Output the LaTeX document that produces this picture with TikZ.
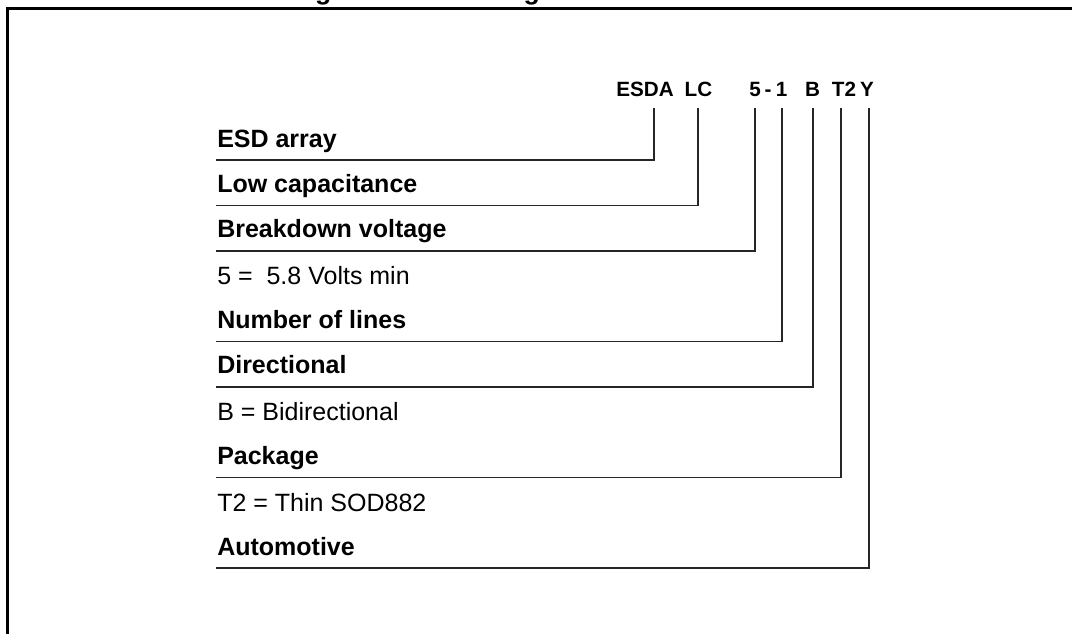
\documentclass[tikz,border=0pt]{standalone}
\usepackage{fontspec}
\setmainfont{Liberation Sans}
\usetikzlibrary{positioning}

\tikzset{
  etiqueta/.style={anchor=base west, inner sep=0pt, font=\fontsize{18.75}{20}\selectfont\bfseries},
  valor/.style={anchor=base west, inner sep=0pt, font=\fontsize{18.75}{20}\selectfont},
  codigo/.style={anchor=base, inner sep=0pt, font=\fontsize{15.5}{16}\selectfont\bfseries},
  guia/.style={line width=1.2pt, color=black!85},
}

\begin{document}
\begin{tikzpicture}[x=0.75pt, y=-0.75pt]
    \useasboundingbox (0,0) rectangle (1072,633);

    %Titulo (cortado arriba) y marco
    \node[anchor=base, inner sep=0pt, font=\fontsize{20}{22}\selectfont\bfseries] (titulo) at (546,-0.5) {Figure 10. Ordering information scheme};
    \draw[line width=2.25pt] (7,700) |- (1100,8);

    %Codigo del producto
    \node[codigo] (esda) at (645,96) {ESDA};
    \node[codigo] (lc) at (698.5,96) {LC};
    \node[codigo] (cinco) at (755,96) {5};
    \node[codigo] (guion) at (768,96) {-};
    \node[codigo] (uno) at (781.5,96) {1};
    \node[codigo] (bi) at (812.5,96) {B};
    \node[codigo] (paq) at (844,96) {T2};
    \node[codigo] (auto) at (867,96) {Y};

    %Bajadas desde el codigo
    \coordinate (d1) at (654,108);
    \coordinate (d2) at (698,108);
    \coordinate (d3) at (755,108);
    \coordinate (d4) at (782,108);
    \coordinate (d5) at (813,108);
    \coordinate (d6) at (841,108);
    \coordinate (d7) at (869,108);

    %Subrayados (filas cada 45.33)
    \coordinate (u1) at (216,160);
    \coordinate (u2) at (216,205.3);
    \coordinate (u3) at (216,250.7);
    \coordinate (u4) at (216,341.3);
    \coordinate (u5) at (216,386.7);
    \coordinate (u6) at (216,477.3);
    \coordinate (u7) at (216,568);

    %Textos
    \node[etiqueta] (esdarr) at (217,147) {ESD array};
    \node[etiqueta] (lowcap) at (217,192.3) {Low capacitance};
    \node[etiqueta] (volt) at (217,237.7) {Breakdown voltage};
    \node[valor] (voltval) at (217,284.7) {5 = \ 5.8 Volts min};
    \node[etiqueta] (lineas) at (217,328.3) {Number of lines};
    \node[etiqueta] (direc) at (217,373.7) {Directional};
    \node[valor] (direcval) at (217,420.7) {B = Bidirectional};
    \node[etiqueta] (paquete) at (217,464.3) {Package};
    \node[valor] (paqval) at (217,511.3) {T2 = Thin SOD882};
    \node[etiqueta] (automo) at (217,555) {Automotive};

    %Lineas guia
    \draw[guia] (d1) |- (u1);
    \draw[guia] (d2) |- (u2);
    \draw[guia] (d3) |- (u3);
    \draw[guia] (d4) |- (u4);
    \draw[guia] (d5) |- (u5);
    \draw[guia] (d6) |- (u6);
    \draw[guia] (d7) |- (u7);
\end{tikzpicture}
\end{document}
